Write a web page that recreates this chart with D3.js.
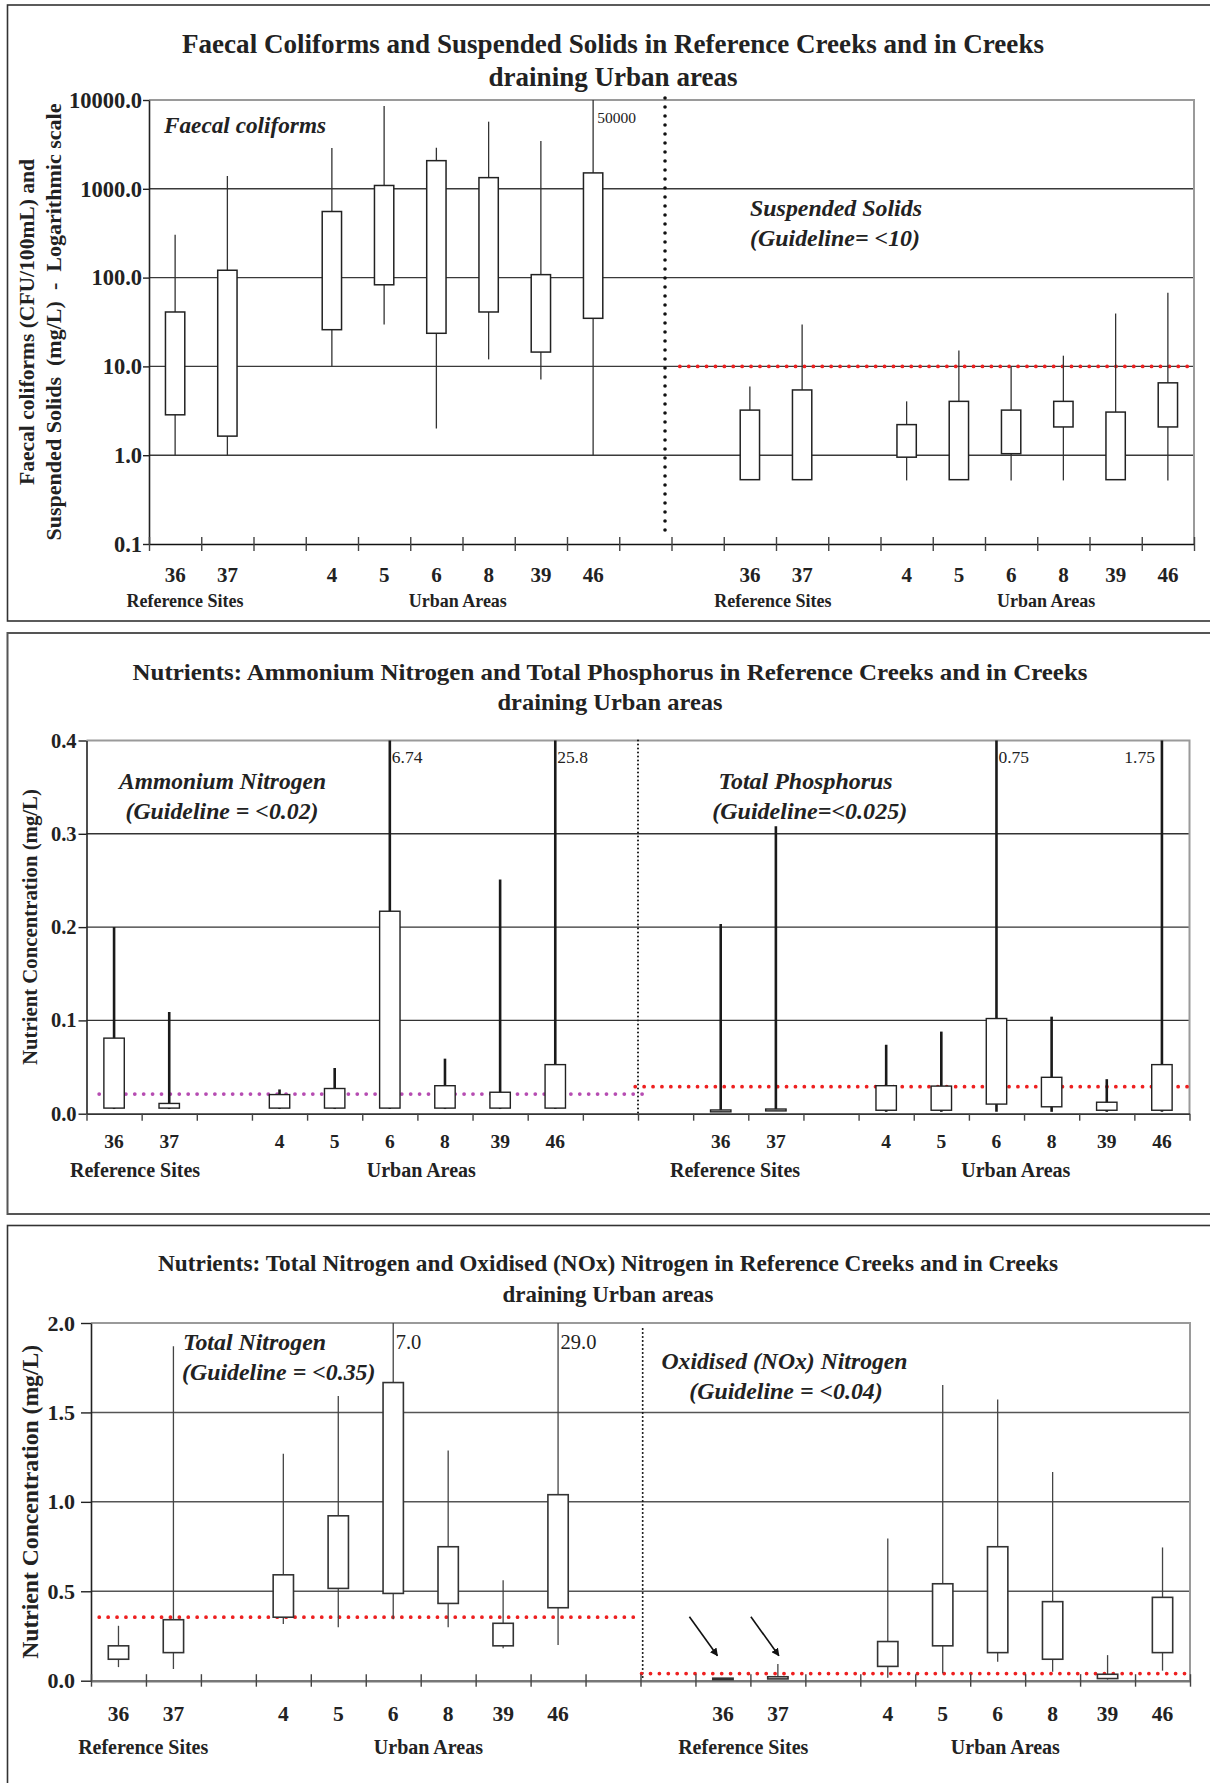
<!DOCTYPE html>
<html>
<head>
<meta charset="utf-8">
<script src="https://cdn.jsdelivr.net/npm/d3@7/dist/d3.min.js"></script>
<style>
  body { margin: 0; background: #fff; }
  svg text { font-family: "Liberation Serif", "Times New Roman", serif; fill: #222; }
</style>
</head>
<body>
<svg id="chart" width="1210" height="1783"></svg>
<script>
// x axis: 20 slots, blanks are gaps between groups
var slotLabels = ["36","37","","4","5","6","8","39","46","","","36","37","","4","5","6","8","39","46"];
var sites = ["36","37","4","5","6","8","39","46"];
var leftSlots = [0, 1, 3, 4, 5, 6, 7, 8];
var rightSlots = [11, 12, 14, 15, 16, 17, 18, 19];

// Faecal coliforms (CFU/100mL) : min, 25th, 75th, max
var faecalMin = [1, 1, 10, 29.6, 2.0, 12, 7.1, 1];
var faecalQ1  = [2.85, 1.64, 25.9, 83, 23.6, 41, 14.5, 34.8];
var faecalQ3  = [41, 121, 555, 1090, 2075, 1336, 108, 1510];
var faecalMax = [304, 1393, 2880, 8580, 2900, 5700, 3456, 50000];

// Suspended solids (mg/L)
var ssMin = [0.53, 0.53, 0.52, 0.53, 0.52, 0.52, 0.53, 0.52];
var ssQ1  = [0.53, 0.53, 0.95, 0.53, 1.04, 2.08, 0.53, 2.08];
var ssQ3  = [3.22, 5.43, 2.21, 4.04, 3.22, 4.04, 3.06, 6.53];
var ssMax = [5.95, 29.6, 4.04, 15.1, 10, 13.2, 39.4, 67.7];

// Ammonium nitrogen (mg/L)
var nh4Min = [0.005, 0.005, 0.005, 0.005, 0.005, 0.005, 0.005, 0.005];
var nh4Q1  = [0.006, 0.006, 0.006, 0.006, 0.006, 0.006, 0.006, 0.006];
var nh4Q3  = [0.081, 0.011, 0.0205, 0.027, 0.217, 0.030, 0.023, 0.0526];
var nh4Max = [0.200, 0.109, 0.026, 0.049, 6.74, 0.059, 0.251, 25.8];

// Total phosphorus (mg/L)
var tpMin = [0.002, 0.003, 0.002, 0.002, 0.002, 0.002, 0.002, 0.002];
var tpQ1  = [0.002, 0.003, 0.0037, 0.0037, 0.0103, 0.0074, 0.0037, 0.0037];
var tpQ3  = [0.004, 0.005, 0.030, 0.0296, 0.102, 0.039, 0.0123, 0.0526];
var tpMax = [0.2033, 0.308, 0.0739, 0.088, 0.75, 0.104, 0.037, 1.75];

// Total nitrogen (mg/L)
var tnMin = [0.076, 0.066, 0.317, 0.299, 0.343, 0.299, 0.181, 0.20];
var tnQ1  = [0.12, 0.157, 0.355, 0.516, 0.488, 0.432, 0.195, 0.408];
var tnQ3  = [0.195, 0.341, 0.592, 0.922, 1.667, 0.749, 0.321, 1.040];
var tnMax = [0.307, 1.87, 1.269, 1.592, 7.0, 1.287, 0.562, 29.0];

// Oxidised (NOx) nitrogen (mg/L)
var noxMin = [0.006, 0.01, 0.016, 0.042, 0.106, 0.05, 0.006, 0.056];
var noxQ1  = [0.006, 0.01, 0.080, 0.195, 0.157, 0.120, 0.012, 0.157];
var noxQ3  = [0.014, 0.022, 0.219, 0.542, 0.749, 0.442, 0.036, 0.466];
var noxMax = [0.014, 0.093, 0.795, 1.653, 1.572, 1.167, 0.143, 0.745];

// guideline levels as drawn
var guideSS = 10, guideNH4 = 0.021, guideTP = 0.029, guideTN = 0.355, guideNOx = 0.04;

var ticksLog = [0.1, 1, 10, 100, 1000, 10000];
var ticksNut1 = [0, 0.1, 0.2, 0.3, 0.4];
var ticksNut2 = [0, 0.5, 1, 1.5, 2];

var svg = d3.select("#chart");
var RED = "#ee2020", PURPLE = "#b64cb2";

function fit(sel, w) {
  if (w) sel.attr("textLength", w).attr("lengthAdjust", "spacingAndGlyphs");
  return sel;
}

function drawPanel(P) {
  var g = svg.append("g");

  g.append("rect")
    .attr("x", P.frame[0]).attr("y", P.frame[1])
    .attr("width", P.frame[2]).attr("height", P.frame[3])
    .attr("fill", "none").attr("stroke", P.frameColor).attr("stroke-width", P.frameWidth);

  // titles
  P.title.forEach(function(t, i) {
    fit(g.append("text")
      .attr("x", P.titleX).attr("y", P.titleY[i]).attr("dy", "0.35em")
      .attr("text-anchor", "middle")
      .style("font-weight", "bold").style("font-size", P.titleSize + "px")
      .text(t), P.titleW[i]);
  });

  var xb = d3.scaleLinear().domain([0, 20]).range([P.left, P.right]);
  var x = d3.scaleBand().domain(d3.range(20)).range([P.left, P.right])
    .paddingInner(0.63).paddingOuter(0.315);
  var y = (P.log ? d3.scaleLog() : d3.scaleLinear())
    .domain(P.yDomain).range([P.bottom, P.top]).clamp(true);

  // gridlines
  g.append("g").selectAll("line")
    .data(P.yTicks.slice(1, -1)).enter().append("line")
    .attr("x1", P.left).attr("x2", P.right)
    .attr("y1", function(d) { return y(d); }).attr("y2", function(d) { return y(d); })
    .attr("stroke", P.gridColor).attr("stroke-width", P.gridWidth);

  // frame top / right
  g.append("path")
    .attr("d", "M" + P.left + "," + P.top + "H" + P.right + "V" + P.bottom)
    .attr("fill", "none").attr("stroke", "#9a9a9a").attr("stroke-width", 2);

  // y axis
  var ya = g.append("g").attr("transform", "translate(" + P.left + ",0)")
    .call(d3.axisLeft(y).tickValues(P.yTicks).tickFormat(d3.format(".1f"))
      .tickSize(P.yTickSize).tickPadding(P.yTickPad).tickSizeOuter(0));
  ya.select(".domain").attr("stroke", "#222").attr("stroke-width", 1.6);
  ya.selectAll(".tick line").attr("stroke", "#222").attr("stroke-width", 1.4);
  ya.selectAll("text").attr("fill", "#222")
    .style("font-family", '"Liberation Serif", serif').style("font-weight", "bold")
    .style("font-size", P.yTickFont + "px");

  // y axis title(s)
  P.yTitle.forEach(function(t, i) {
    fit(g.append("text")
      .attr("transform", "translate(" + P.yTitleX[i] + "," + (P.top + P.bottom) / 2 + ") rotate(-90)")
      .attr("dy", "0.35em").attr("text-anchor", "middle")
      .style("font-weight", "bold").style("font-size", P.yTitleFont + "px")
      .style("white-space", "pre")
      .text(t), P.yTitleW[i]);
  });

  // dividers and guideline dots
  g.append("line")
    .attr("x1", xb(P.divider.at)).attr("x2", xb(P.divider.at))
    .attr("y1", P.top + P.divider.y0).attr("y2", P.bottom + P.divider.y1)
    .attr("stroke", "#111").attr("stroke-width", P.divider.w)
    .attr("stroke-dasharray", P.divider.dash).attr("stroke-linecap", "round");

  P.guides.forEach(function(gd) {
    g.append("line")
      .attr("x1", xb(gd.from)).attr("x2", xb(gd.to))
      .attr("y1", y(gd.value)).attr("y2", y(gd.value))
      .attr("stroke", gd.color).attr("stroke-width", 3.8)
      .attr("stroke-dasharray", "0,8.9").attr("stroke-linecap", "round");
  });

  // x axis ticks at slot boundaries
  var xa = g.append("g").attr("transform", "translate(0," + P.bottom + ")")
    .call(d3.axisBottom(xb).tickValues(d3.range(21)).tickFormat("").tickSizeOuter(0));
  xa.select(".domain").attr("stroke", P.xAxisColor).attr("stroke-width", P.xAxisWidth);
  xa.selectAll(".tick line").attr("y1", P.xTick[0]).attr("y2", P.xTick[1])
    .attr("stroke", "#444").attr("stroke-width", 1.4);

  // category labels
  var ca = g.append("g").attr("transform", "translate(0," + P.catY + ")")
    .call(d3.axisBottom(x).tickSize(0).tickPadding(0)
      .tickFormat(function(i) { return slotLabels[i]; }));
  ca.select(".domain").remove();
  ca.selectAll("text").attr("y", 0).attr("dy", "0.35em").attr("fill", "#222")
    .style("font-family", '"Liberation Serif", serif').style("font-weight", "bold")
    .style("font-size", P.catFont + "px");

  P.groups.forEach(function(gr) {
    g.append("text")
      .attr("x", xb(gr.at)).attr("y", P.groupY).attr("dy", "0.35em")
      .attr("text-anchor", "middle")
      .style("font-weight", "bold").style("font-size", P.groupFont + "px")
      .text(gr.text);
  });

  // annotations
  P.notes.forEach(function(n) {
    fit(g.append("text")
      .attr("x", n.x).attr("y", n.y).attr("dy", "0.35em")
      .attr("text-anchor", n.anchor || "middle")
      .style("font-weight", "bold").style("font-style", "italic")
      .style("font-size", "23.5px")
      .text(n.text), n.w);
  });

  // boxes
  P.series.forEach(function(s) {
    var rows = s.slots.map(function(slot, i) {
      return { slot: slot, site: sites[i], min: s.min[i], q1: s.q1[i], q3: s.q3[i], max: s.max[i] };
    });
    var cx = function(d) { return x(d.slot) + x.bandwidth() / 2; };
    var bg = g.append("g");
    bg.selectAll("line").data(rows).enter().append("line")
      .attr("x1", cx).attr("x2", cx)
      .attr("y1", function(d) { return y(d.min); })
      .attr("y2", function(d) { return y(d.max); })
      .attr("stroke", P.whiskerColor).attr("stroke-width", P.whiskerWidth);
    bg.selectAll("rect").data(rows).enter().append("rect")
      .attr("x", function(d) { return x(d.slot); })
      .attr("width", x.bandwidth())
      .attr("y", function(d) { return y(d.q3); })
      .attr("height", function(d) { return Math.max(0.5, y(d.q1) - y(d.q3)); })
      .attr("fill", "#fff").attr("stroke", P.boxColor).attr("stroke-width", P.boxWidth);
    // maxima beyond the axis
    bg.selectAll("text")
      .data(rows.filter(function(d) { return d.max > P.yDomain[1]; }))
      .enter().append("text")
      .attr("x", function(d) {
        var left = (s.labelLeft || []).indexOf(d.site) >= 0;
        return cx(d) + (left ? -7 : P.overDx);
      })
      .attr("y", P.top + P.overDy).attr("dy", "0.35em")
      .attr("text-anchor", function(d) { return (s.labelLeft || []).indexOf(d.site) >= 0 ? "end" : "start"; })
      .style("font-size", P.overFont + "px")
      .text(function(d) { return P.overFmt(d.max); });
  });

  // arrows
  (P.arrows || []).forEach(function(a) {
    var i = sites.indexOf(a.site);
    var tx = x(rightSlots[i]) + x.bandwidth() / 2 + a.dx;
    g.append("line")
      .attr("x1", tx - 28).attr("y1", y(a.from))
      .attr("x2", tx).attr("y2", y(a.to))
      .attr("stroke", "#111").attr("stroke-width", 1.6)
      .attr("marker-end", "url(#arrow)");
  });
}

svg.append("defs").append("marker")
  .attr("id", "arrow").attr("viewBox", "0 0 10 10")
  .attr("refX", 9).attr("refY", 5)
  .attr("markerWidth", 5).attr("markerHeight", 5)
  .attr("orient", "auto")
  .append("path").attr("d", "M0,0L10,5L0,10z").attr("fill", "#111");

// Panel 1 - faecal coliforms and suspended solids (log scale)
drawPanel({
  frame: [7.5, 5, 1215, 616], frameColor: "#333", frameWidth: 1.6,
  title: ["Faecal Coliforms and Suspended Solids in Reference Creeks and in Creeks", "draining Urban areas"],
  titleX: 613, titleY: [43.5, 77], titleW: [862, 249], titleSize: 26.5,
  left: 149, right: 1194, top: 100, bottom: 544,
  log: true, yDomain: [0.1, 10000], yTicks: ticksLog,
  yTickSize: 6, yTickPad: 1, yTickFont: 22.5,
  yTitle: ["Faecal coliforms (CFU/100mL) and", "Suspended Solids  (mg/L)  -  Logarithmic scale"],
  yTitleX: [27, 54], yTitleW: [326, 437], yTitleFont: 21,
  gridColor: "#3a3a3a", gridWidth: 1.4,
  divider: { at: 9.876, y0: -2, y1: -6, w: 3.6, dash: "0,9" },
  guides: [{ value: guideSS, from: 10.16, to: 19.96, color: RED }],
  xAxisColor: "#111", xAxisWidth: 1.6, xTick: [-7, 7],
  catY: 575, catFont: 21,
  groupY: 601, groupFont: 18,
  groups: [{ at: 0.69, text: "Reference Sites" }, { at: 5.91, text: "Urban Areas" },
           { at: 11.94, text: "Reference Sites" }, { at: 17.17, text: "Urban Areas" }],
  notes: [{ text: "Faecal coliforms", x: 164, y: 125, anchor: "start", w: 162 },
          { text: "Suspended Solids", x: 750, y: 208, anchor: "start", w: 172 },
          { text: "(Guideline= <10)", x: 750, y: 238, anchor: "start", w: 170 }],
  whiskerColor: "#333", whiskerWidth: 1.3, boxColor: "#222", boxWidth: 1.5,
  overDx: 4, overDy: 17.7, overFont: 15.5, overFmt: d3.format("d"),
  series: [
    { slots: leftSlots, min: faecalMin, q1: faecalQ1, q3: faecalQ3, max: faecalMax },
    { slots: rightSlots, min: ssMin, q1: ssQ1, q3: ssQ3, max: ssMax }
  ]
});

// Panel 2 - ammonium nitrogen and total phosphorus
drawPanel({
  frame: [7.5, 633, 1215, 581], frameColor: "#555", frameWidth: 2,
  title: ["Nutrients: Ammonium Nitrogen and Total Phosphorus in Reference Creeks and in Creeks", "draining Urban areas"],
  titleX: 610, titleY: [672, 702], titleW: [955, 225], titleSize: 24,
  left: 86.5, right: 1189.5, top: 740.5, bottom: 1113.7,
  log: false, yDomain: [0, 0.4], yTicks: ticksNut1,
  yTickSize: 8, yTickPad: 2, yTickFont: 20.5,
  yTitle: ["Nutrient Concentration (mg/L)"], yTitleX: [30], yTitleW: [276], yTitleFont: 21,
  gridColor: "#333", gridWidth: 1.4,
  divider: { at: 10, y0: 0, y1: 0, w: 2, dash: "0,4" },
  guides: [{ value: guideNH4, from: 0.23, to: 10.11, color: PURPLE },
           { value: guideTP, from: 9.95, to: 20, color: RED }],
  xAxisColor: "#333", xAxisWidth: 1.8, xTick: [0, 7],
  catY: 1141, catFont: 19.5,
  groupY: 1170, groupFont: 20,
  groups: [{ at: 0.88, text: "Reference Sites" }, { at: 6.07, text: "Urban Areas" },
           { at: 11.76, text: "Reference Sites" }, { at: 16.85, text: "Urban Areas" }],
  notes: [{ text: "Ammonium Nitrogen", x: 222.5, y: 781, w: 207 },
          { text: "(Guideline = <0.02)", x: 222, y: 811, w: 193 },
          { text: "Total Phosphorus", x: 805.6, y: 781, w: 174 },
          { text: "(Guideline=<0.025)", x: 809.7, y: 811, w: 195 }],
  whiskerColor: "#1a1a1a", whiskerWidth: 2.6, boxColor: "#222", boxWidth: 1.4,
  overDx: 2, overDy: 16.5, overFont: 17.5, overFmt: function(v) { return String(v); },
  series: [
    { slots: leftSlots, min: nh4Min, q1: nh4Q1, q3: nh4Q3, max: nh4Max },
    { slots: rightSlots, min: tpMin, q1: tpQ1, q3: tpQ3, max: tpMax, labelLeft: ["46"] }
  ]
});

// Panel 3 - total nitrogen and oxidised nitrogen
drawPanel({
  frame: [7.5, 1225.5, 1215, 600], frameColor: "#333", frameWidth: 1.6,
  title: ["Nutrients: Total Nitrogen and Oxidised (NOx) Nitrogen in Reference Creeks and in Creeks", "draining Urban areas"],
  titleX: 608, titleY: [1263, 1294], titleW: [900, 211], titleSize: 23,
  left: 91, right: 1190, top: 1323, bottom: 1680.7,
  log: false, yDomain: [0, 2], yTicks: ticksNut2,
  yTickSize: 10, yTickPad: 6, yTickFont: 22,
  yTitle: ["Nutrient Concentration (mg/L)"], yTitleX: [29.5], yTitleW: [314], yTitleFont: 23.5,
  gridColor: "#555", gridWidth: 1.5,
  divider: { at: 10.04, y0: 6, y1: 0, w: 2, dash: "0,4" },
  guides: [{ value: guideTN, from: 0.15, to: 9.9, color: RED },
           { value: guideNOx, from: 10.02, to: 20, color: RED }],
  xAxisColor: "#777", xAxisWidth: 2.6, xTick: [-6.5, 6],
  catY: 1713.7, catFont: 21.5,
  groupY: 1746.8, groupFont: 20,
  groups: [{ at: 0.95, text: "Reference Sites" }, { at: 6.14, text: "Urban Areas" },
           { at: 11.87, text: "Reference Sites" }, { at: 16.64, text: "Urban Areas" }],
  notes: [{ text: "Total Nitrogen", x: 183, y: 1342, anchor: "start", w: 143 },
          { text: "(Guideline = <0.35)", x: 182, y: 1372, anchor: "start", w: 193.5 },
          { text: "Oxidised (NOx) Nitrogen", x: 784.5, y: 1361, w: 246 },
          { text: "(Guideline = <0.04)", x: 786, y: 1391, w: 193.5 }],
  whiskerColor: "#444", whiskerWidth: 1.3, boxColor: "#333", boxWidth: 1.6,
  overDx: 2.5, overDy: 18.4, overFont: 20.5, overFmt: d3.format(".1f"),
  series: [
    { slots: leftSlots, min: tnMin, q1: tnQ1, q3: tnQ3, max: tnMax },
    { slots: rightSlots, min: noxMin, q1: noxQ1, q3: noxQ3, max: noxMax }
  ],
  arrows: [{ site: "36", dx: -5.5, from: 0.3575, to: 0.1397 },
           { site: "37", dx: 1, from: 0.3575, to: 0.1397 }]
});
</script>
</body>
</html>
